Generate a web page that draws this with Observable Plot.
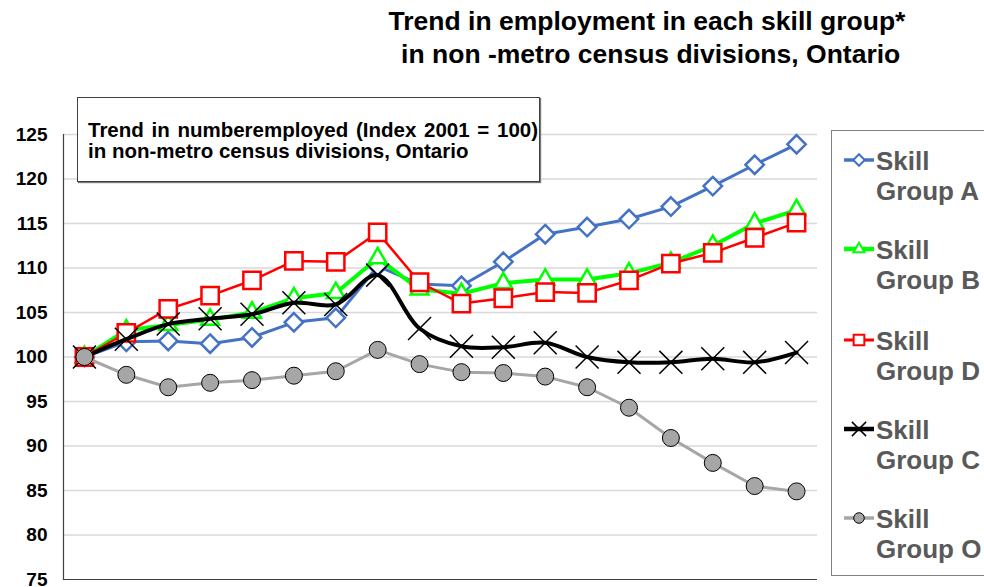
<!DOCTYPE html>
<html><head><meta charset="utf-8">
<script src="https://cdn.jsdelivr.net/npm/d3@7"></script>
<script src="https://cdn.jsdelivr.net/npm/@observablehq/plot@0.6"></script>
<style>
body{margin:0;background:#fff;font-family:"Liberation Sans",Arial,sans-serif;}
#wrap{position:relative;width:984px;height:587px;overflow:hidden;background:#fff;}
#chart{position:absolute;left:0;top:0;}
.t{position:absolute;left:347px;width:600px;text-align:center;font-weight:bold;font-size:26.5px;line-height:30px;color:#000;white-space:pre;}
#box{position:absolute;left:77px;top:97px;width:463px;height:85px;box-sizing:border-box;border:1px solid #404040;box-shadow:1px 1px 1px #777;background:#fff;}
#box div{position:absolute;left:10px;font-weight:bold;font-size:20.5px;line-height:21px;white-space:nowrap;color:#000;}
#legend{position:absolute;left:831px;top:130px;width:200px;height:446px;box-sizing:border-box;border:1px solid #808080;background:#fff;}
.li{position:absolute;left:10px;}
.li svg{position:absolute;left:0;top:0;}
.li .lab{position:absolute;left:34px;top:-14px;font-weight:bold;font-size:26px;line-height:30px;color:#595959;white-space:nowrap;}
</style></head>
<body>
<div id="wrap">
  <div id="chart"></div>
  <div class="t" style="top:6px">Trend in employment in each skill group*</div>
  <div class="t" style="top:39px"> in non -metro census divisions, Ontario</div>
  <div id="box">
    <div style="top:21px;word-spacing:2px">Trend in numberemployed (Index 2001 = 100)</div>
    <div style="top:42px">in non-metro census divisions, Ontario</div>
  </div>
  <div id="legend"></div>
</div>
<script>
const years = ["2001","2002","2003","2004","2005","2006","2007","2008","2009","2010","2011","2012","2013","2014","2015","2016","2017","2018"];
const groupA = [100,101.7,101.8,101.5,102.2,103.9,104.4,110.2,108.2,108.0,110.7,113.8,114.6,115.5,116.9,119.2,121.6,123.9];
const groupB = [100,103.0,103.6,104.2,105.0,106.6,107.2,111.1,107.6,107.1,108.3,108.7,108.7,109.4,110.6,112.5,115.0,116.5];
const groupD = [100,102.7,105.4,106.9,108.6,110.8,110.7,114.0,108.4,106.0,106.6,107.3,107.2,108.6,110.5,111.7,113.4,115.1];
const groupC = [100,102.0,103.7,104.3,104.8,106.1,105.9,109.2,103.2,101.2,101.1,101.6,100.0,99.4,99.4,99.8,99.4,100.5];
const groupO = [100,98.0,96.6,97.1,97.4,97.9,98.4,100.8,99.2,98.3,98.2,97.8,96.6,94.3,90.9,88.1,85.5,84.9];
const seriesNames = ["Skill Group A","Skill Group B","Skill Group D","Skill Group C","Skill Group O"];
const yTicks = [75,80,85,90,95,100,105,110,115,120,125];

const seriesValues = [groupA, groupB, groupD, groupC, groupO];
const styles = [
  {color:"#4472C4", width:3,   symbol:"diamond2", r:8.3, fill:"white", mstroke:"#4472C4", mw:2.5, curve:"linear"},
  {color:"#00FF00", width:4,   symbol:"triangle2", r:8.5, fill:"white", mstroke:"#00FF00", mw:2.5, curve:"linear"},
  {color:"#FF0000", width:2.5, symbol:"square2", r:11,  fill:"white", mstroke:"#FF0000", mw:2.5, curve:"linear"},
  {color:"#000000", width:4,   symbol:"times", r:10.5, fill:"none", mstroke:"#000000", mw:1.5, curve:"catmull-rom"},
  {color:"#A6A6A6", width:3,   symbol:"circle", r:8.5, fill:"#A6A6A6", mstroke:"#000000", mw:1, curve:"linear"}
];

const marks = [
  Plot.gridY(yTicks.filter(d => d > 75), {stroke:"#d9d9d9", strokeOpacity:1, strokeWidth:1.5}),
  Plot.ruleY([75], {stroke:"#404040", strokeWidth:1.2}),
  Plot.frame({anchor:"left", stroke:"#404040", strokeWidth:1.2}),
  Plot.axisY(yTicks, {tickSize:0, tickPadding:16, fontSize:19, fontWeight:"bold", fill:"#000", label:null})
];
seriesValues.forEach((vals, i) => {
  const s = styles[i];
  const data = years.map((y, j) => ({year:y, value:vals[j]}));
  marks.push(Plot.line(data, {x:"year", y:"value", stroke:s.color, strokeWidth:s.width, curve:s.curve}));
  marks.push(Plot.dot(data, {x:"year", y:"value", symbol:s.symbol, r:s.r, fill:s.fill, stroke:s.mstroke, strokeWidth:s.mw}));
});

const chart = Plot.plot({
  width:984, height:587,
  marginTop:134, marginBottom:8, marginLeft:63, marginRight:167,
  style:{fontFamily:"'Liberation Sans', Arial, sans-serif", background:"transparent", overflow:"visible"},
  x:{type:"point", domain:years, padding:0.5, round:false, axis:null},
  y:{domain:[75,125], axis:null},
  marks
});
document.getElementById("chart").appendChild(chart);

// legend
const legend = document.getElementById("legend");
const legendOffsets = [29, 118, 209, 298, 387];
seriesNames.forEach((name, i) => {
  const s = styles[i];
  const item = document.createElement("div");
  item.className = "li";
  item.style.top = legendOffsets[i] + "px";
  const svg = d3.create("svg").attr("width", 40).attr("height", 20).style("overflow","visible");
  svg.append("line").attr("x1", 2).attr("x2", 32).attr("y1", 0).attr("y2", 0)
    .attr("stroke", s.color).attr("stroke-width", s.width + 0.5);
  const symMap = {diamond2:d3.symbolDiamond2, triangle2:d3.symbolTriangle2, square2:d3.symbolSquare2, times:d3.symbolTimes, circle:d3.symbolCircle};
  const rr = s.r * 0.62;
  svg.append("path").attr("transform","translate(17,0)")
    .attr("d", d3.symbol(symMap[s.symbol], Math.PI*rr*rr)())
    .attr("fill", s.fill).attr("stroke", s.mstroke).attr("stroke-width", Math.min(s.mw, 2));
  item.appendChild(svg.node());
  const parts = name.split(" ");
  const lab = document.createElement("div");
  lab.className = "lab";
  lab.innerHTML = parts[0] + "<br>" + parts.slice(1).join(" ");
  item.appendChild(lab);
  legend.appendChild(item);
});
</script>
</body></html>
